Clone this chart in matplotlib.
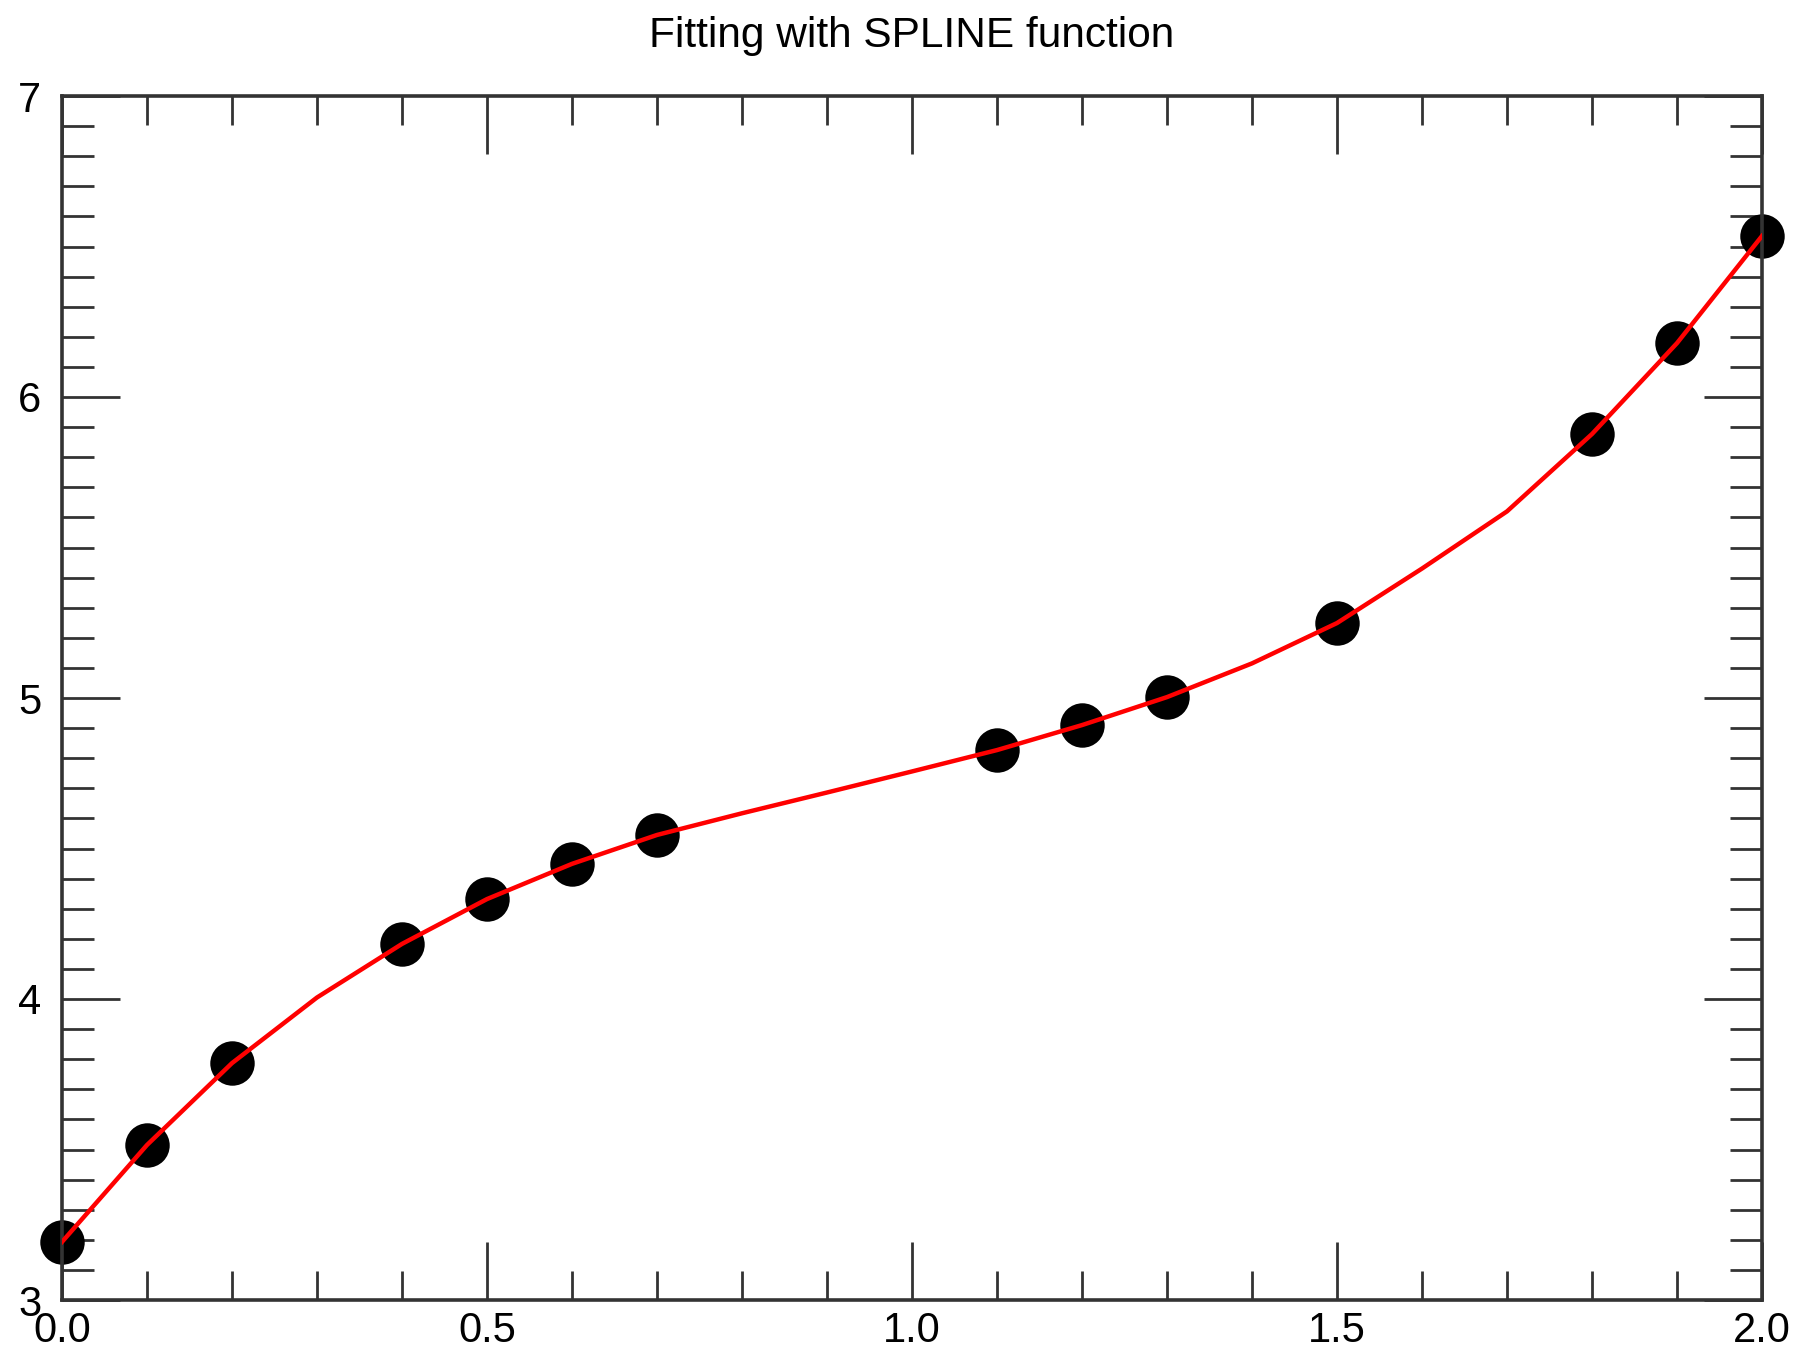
import matplotlib
matplotlib.use("Agg")
import matplotlib.pyplot as plt
from matplotlib.ticker import MultipleLocator, FormatStrFormatter

# Data points (black dots)
x_data = [0.0, 0.1, 0.2, 0.4, 0.5, 0.6, 0.7, 1.1, 1.2, 1.3, 1.5, 1.8, 1.9, 2.0]
y_data = [3.193, 3.515, 3.787, 4.183, 4.332, 4.449, 4.545, 4.827, 4.910, 5.003,
          5.249, 5.877, 6.179, 6.535]

# Spline curve (red), read at 0.1 steps
x_curve = [0.0, 0.1, 0.2, 0.3, 0.4, 0.5, 0.6, 0.7, 0.8, 0.9, 1.0,
           1.1, 1.2, 1.3, 1.4, 1.5, 1.6, 1.7, 1.8, 1.9, 2.0]
y_curve = [3.193, 3.515, 3.787, 4.005, 4.183, 4.332, 4.449, 4.545, 4.617, 4.686, 4.756,
           4.827, 4.910, 5.003, 5.115, 5.249, 5.430, 5.620, 5.877, 6.179, 6.535]

title = "Fitting with SPLINE function"

plt.rcParams['font.family'] = ['Liberation Sans', 'DejaVu Sans']

fig = plt.figure(figsize=(17.99, 13.53), dpi=100)
ax = fig.add_axes([62/1799, 1 - 1300/1353, (1762-62)/1799, (1300-96)/1353])

ax.plot(x_curve, y_curve, color='#ff0000', linewidth=3.2, zorder=3, solid_joinstyle='round')
ax.plot(x_data, y_data, 'o', color='black', markersize=32, markeredgewidth=0, zorder=2, clip_on=False)

ax.set_xlim(0, 2)
ax.set_ylim(3, 7)
ax.xaxis.set_major_locator(MultipleLocator(0.5))
ax.xaxis.set_minor_locator(MultipleLocator(0.1))
ax.yaxis.set_major_locator(MultipleLocator(1))
ax.yaxis.set_minor_locator(MultipleLocator(0.1))
ax.xaxis.set_major_formatter(FormatStrFormatter('%.1f'))
ax.yaxis.set_major_formatter(FormatStrFormatter('%d'))

spine_color = '#333333'
for s in ax.spines.values():
    s.set_linewidth(2.6)
    s.set_color(spine_color)

ax.tick_params(axis='x', which='major', direction='in', length=42, width=2.0,
               top=True, bottom=True, labelsize=30, pad=8, color=spine_color)
ax.tick_params(axis='x', which='minor', direction='in', length=21, width=2.0,
               top=True, bottom=True, color=spine_color)
ax.tick_params(axis='y', which='major', direction='in', length=42, width=2.0,
               left=True, right=True, labelsize=30, pad=15, color=spine_color)
ax.tick_params(axis='y', which='minor', direction='in', length=23, width=2.0,
               left=True, right=True, color=spine_color)

ax.set_title(title, fontsize=30.5, pad=35)

fig.savefig("out.png", dpi=100)
